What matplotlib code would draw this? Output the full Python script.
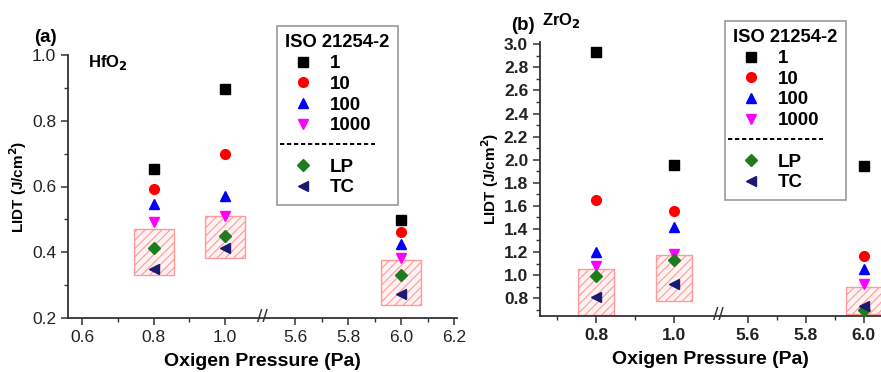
import numpy as np
import matplotlib
matplotlib.use("Agg")
import matplotlib.pyplot as plt
from matplotlib.lines import Line2D
from matplotlib.legend_handler import HandlerBase

plt.rcParams['font.family'] = ['Liberation Sans', 'DejaVu Sans']
plt.rcParams['hatch.color'] = '#ff9a9a'
plt.rcParams['hatch.linewidth'] = 0.8

# === data ===
pressure = [0.8, 1.0, 6.0]
series_labels = ['1', '10', '100', '1000', 'LP', 'TC']

# HfO2 panel (a)
hfo2 = {
    '1':    [0.653, 0.898, 0.498],
    '10':   [0.593, 0.698, 0.461],
    '100':  [0.547, 0.572, 0.426],
    '1000': [0.493, 0.509, 0.384],
    'LP':   [0.412, 0.448, 0.331],
    'TC':   [0.349, 0.412, 0.274],
}
hfo2_box_low = [0.331, 0.382, 0.240]
hfo2_box_high = [0.470, 0.509, 0.377]

# ZrO2 panel (b)
zro2 = {
    '1':    [2.931, 1.952, 1.949],
    '10':   [1.648, 1.556, 1.161],
    '100':  [1.198, 1.413, 1.055],
    '1000': [1.075, 1.184, 0.926],
    'LP':   [0.992, 1.127, 0.697],
    'TC':   [0.806, 0.926, 0.731],
}
zro2_box_low = [0.654, 0.777, 0.660]
zro2_box_high = [1.055, 1.178, 0.897]

xticks_a = [0.6, 0.8, 1.0, 5.6, 5.8, 6.0, 6.2]
xticks_b = [0.8, 1.0, 5.6, 5.8, 6.0]
xticks_minor = [0.7, 0.9, 5.7, 5.9, 6.1]

styles = {
    '1':    dict(marker='s', color='black', ms=6.5),
    '10':   dict(marker='o', color='#ff0000', ms=7),
    '100':  dict(marker='^', color='#0000ff', ms=7.5),
    '1000': dict(marker='v', color='#ff00ff', ms=7.5),
    'LP':   dict(marker='D', color='#1e7b1e', ms=6),
    'TC':   dict(marker='<', color='#1a1a72', ms=7.5),
}


def broken_scale(b1, b2, r):
    def fwd(x):
        x = np.asarray(x, dtype=float)
        return np.where(x <= b1, x, np.where(x >= b2, b1 + (x - b2) * r, b1))

    def inv(u):
        u = np.asarray(u, dtype=float)
        return np.where(u <= b1, u, b2 + (u - b1) / r)
    return fwd, inv


class SepHandler(HandlerBase):
    def create_artists(self, legend, orig_handle, xdescent, ydescent,
                       width, height, fontsize, trans):
        y = height / 2 - ydescent
        ln = Line2D([-xdescent - 4, -xdescent + width * 2.5], [y, y],
                    color='black', ls=(0, (2.2, 1.4)), lw=1.4, transform=trans)
        return [ln]


def panel(ax, data, lo, hi, b1, b2, r, half_w, xticks, xlim, ylim):
    fwd, inv = broken_scale(b1, b2, r)
    ax.set_xscale('function', functions=(fwd, inv))

    # hatched boxes
    for x, l, h in zip(pressure, lo, hi):
        w = 2 * half_w if x < b1 else 2 * half_w / r
        ax.bar(x, h - l, bottom=l, width=w, color='#fff2f2',
               edgecolor='#ff9a9a', hatch='////', lw=1.0, zorder=1)

    for key in series_labels:
        st = styles[key]
        ax.plot(pressure, data[key], ls='none', marker=st['marker'],
                color=st['color'], ms=st['ms'], mec=st['color'], zorder=3)

    ax.set_xticks(xticks)
    ax.set_xticks(xticks_minor, minor=True)
    ax.set_xticklabels(['%.1f' % t for t in xticks])
    ax.set_xlim(*xlim)
    ax.set_ylim(*ylim)
    for s in ['top', 'right']:
        ax.spines[s].set_visible(False)
    for s in ['left', 'bottom']:
        ax.spines[s].set_color('#333333')
        ax.spines[s].set_linewidth(1.3)
    ax.tick_params(which='major', direction='out', length=5, width=1.1,
                   labelsize=12.5, colors='#333333', labelcolor='#222222')
    ax.tick_params(which='minor', direction='out', length=3, width=1.0,
                   colors='#333333')
    ax.set_xlabel('Oxigen Pressure (Pa)', fontsize=14, fontweight='bold',
                  labelpad=6)
    ax.set_ylabel('LIDT (J/cm$^\\mathbf{2}$)', fontsize=11, fontweight='bold',
                  labelpad=2)

    # axis break mark
    trans = ax.get_xaxis_transform()
    ax.text(b1, 0, '//', transform=trans, ha='center', va='center',
            fontsize=14, color='#333333', clip_on=False, zorder=5)


def legend(fig, anchor):
    handles = [Line2D([], [], ls='none', marker=styles[k]['marker'],
                      color=styles[k]['color'], ms=styles[k]['ms'])
               for k in series_labels]
    sep = object()
    handles = handles[:4] + [sep] + handles[4:]
    labels = series_labels[:4] + [''] + series_labels[4:]
    leg = fig.legend(handles, labels, title='ISO 21254-2', loc='upper left',
                     bbox_to_anchor=anchor, bbox_transform=fig.transFigure,
                     handler_map={sep: SepHandler()}, fancybox=False,
                     edgecolor='#999999', framealpha=1,
                     prop=dict(size=13.5, weight='bold'),
                     handlelength=1.9, handletextpad=0.45, labelspacing=0.19,
                     borderpad=0.45, borderaxespad=0)
    leg.get_title().set_fontweight('bold')
    leg.get_title().set_fontsize(13.2)
    leg._legend_box.align = 'left'
    leg.get_frame().set_linewidth(1.2)


fig = plt.figure(figsize=(8.81, 3.72), dpi=100)
ax1 = fig.add_axes([68 / 881, 1 - 318 / 372, (457 - 68) / 881, (318 - 55) / 372])
ax2 = fig.add_axes([540 / 881, 1 - 316 / 372, (881 - 540) / 881, (316 - 42) / 372])

panel(ax1, hfo2, hfo2_box_low, hfo2_box_high, 1.105, 5.478, 0.741, 0.056,
      xticks_a, (0.561, 6.21), (0.2, 1.0))
ax1.set_yticks([0.2, 0.4, 0.6, 0.8, 1.0])
ax1.set_yticks([0.3, 0.5, 0.7, 0.9], minor=True)
ax1.set_yticklabels(['0.2', '0.4', '0.6', '0.8', '1.0'])
ax1.set_ylim(0.2, 1.0)

panel(ax2, zro2, zro2_box_low, zro2_box_high, 1.113, 5.497, 0.744, 0.046,
      xticks_b, (0.656, 6.059), (0.645, 3.02))
yt = np.round(np.arange(0.8, 3.01, 0.2), 1)
ax2.set_yticks(yt)
ax2.set_yticks(np.round(np.arange(0.7, 3.0, 0.2), 1), minor=True)
ax2.set_yticklabels(['%.1f' % v for v in yt], fontweight='bold')
ax2.set_xticklabels(['%.1f' % t for t in xticks_b], fontweight='bold')
ax2.set_ylim(0.645, 3.02)

fig.text(34 / 881, 1 - 37 / 372, '(a)', fontsize=13.5, fontweight='bold',
         va='center')
fig.text(88 / 881, 1 - 62 / 372, 'HfO$_\\mathbf{2}$', fontsize=12,
         fontweight='bold', va='center')
fig.text(511 / 881, 1 - 26 / 372, '(b)', fontsize=13.5, fontweight='bold',
         va='center')
fig.text(542 / 881, 1 - 20 / 372, 'ZrO$_\\mathbf{2}$', fontsize=12,
         fontweight='bold', va='center')

legend(fig, (277 / 881, 1 - 26 / 372))
legend(fig, (725 / 881, 1 - 21 / 372))

fig.savefig('out.png', dpi=100)
